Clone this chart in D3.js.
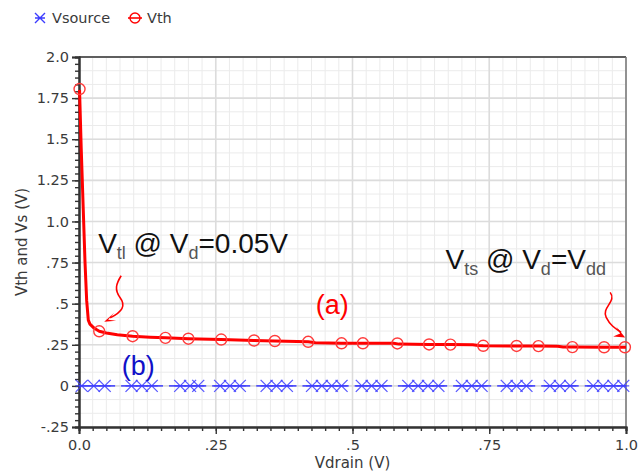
<!DOCTYPE html>
<html>
<head>
<meta charset="utf-8">
<script src="https://cdn.jsdelivr.net/npm/d3@7"></script>
<style>
  html, body { margin: 0; padding: 0; background: #fff; }
  svg { display: block; }
</style>
</head>
<body>
<svg id="chart" width="639" height="473"></svg>
<script>
// Threshold voltage vs drain voltage (simulated sweep)
const vthLineX = [0.001, 0.004, 0.008, 0.011, 0.014, 0.017, 0.020, 0.028, 0.037, 0.05, 0.07, 0.098, 0.13, 0.158, 0.2, 0.26, 0.32, 0.358, 0.419, 0.432, 0.48, 0.519, 0.575, 0.585, 0.64, 0.679, 0.72, 0.73, 0.739, 0.8, 0.84, 0.875, 0.885, 0.902, 0.96, 1.0];
const vthLineY = [1.80, 1.45, 1.05, 0.75, 0.52, 0.40, 0.376, 0.35, 0.332, 0.322, 0.311, 0.302, 0.296, 0.292, 0.287, 0.282, 0.276, 0.273, 0.268, 0.262, 0.259, 0.259, 0.259, 0.254, 0.252, 0.251, 0.250, 0.245, 0.244, 0.243, 0.242, 0.241, 0.237, 0.236, 0.235, 0.235];

// Vth sample markers
const vthMarkX = [0.001, 0.037, 0.098, 0.158, 0.2, 0.26, 0.32, 0.358, 0.419, 0.48, 0.519, 0.582, 0.64, 0.679, 0.739, 0.80, 0.84, 0.902, 0.96, 0.998];
const vthMarkY = [1.805, 0.332, 0.302, 0.292, 0.287, 0.282, 0.276, 0.273, 0.268, 0.259, 0.259, 0.258, 0.252, 0.251, 0.244, 0.243, 0.242, 0.236, 0.235, 0.235];

// Source voltage samples (held at ground)
const vsX = [0.005, 0.027, 0.047, 0.096, 0.115, 0.133, 0.185, 0.203, 0.218, 0.258, 0.276, 0.294, 0.343, 0.361, 0.38, 0.426, 0.444, 0.462, 0.48, 0.517, 0.535, 0.553, 0.602, 0.62, 0.638, 0.657, 0.70, 0.718, 0.736, 0.782, 0.80, 0.818, 0.861, 0.879, 0.898, 0.94, 0.958, 0.977, 0.995];
const vsY = vsX.map(() => 0);

// Axis ticks and labels
const xTickValues = [0, 0.25, 0.5, 0.75, 1.0];
const xTickLabels = ["0.0", ".25", ".5", ".75", "1.0"];
const yTickValues = [2.0, 1.75, 1.5, 1.25, 1.0, 0.75, 0.5, 0.25, 0, -0.25];
const yTickLabels = ["2.0", "1.75", "1.5", "1.25", "1.0", ".75", ".5", ".25", "0", "-.25"];

const seriesNames = ["Vsource", "Vth"];

const svg = d3.select("#chart");
const W = 639, H = 473;
const margin = { left: 79, right: 13, top: 57, bottom: 46 };
const x = d3.scaleLinear().domain([0, 1]).range([margin.left, W - margin.right]);
const y = d3.scaleLinear().domain([-0.25, 2.0]).range([H - margin.bottom, margin.top]);

const RED = "#ff0000", BLUE = "#3c3cff", TXT = "#3a3a3a";
const tickFont = "DejaVu Sans, Verdana, sans-serif";

// grid
const g = svg.append("g");
const xMinor = d3.range(0, 1.0001, 0.025);
const yMinor = d3.range(-0.25, 2.0001, 0.25 / 3);
g.selectAll(".vx").data(xMinor).join("line")
  .attr("x1", d => x(d)).attr("x2", d => x(d)).attr("y1", y(2)).attr("y2", y(-0.25))
  .attr("stroke", "#ebebeb").attr("stroke-width", 1);
g.selectAll(".hy").data(yMinor).join("line")
  .attr("y1", d => y(d)).attr("y2", d => y(d)).attr("x1", x(0)).attr("x2", x(1))
  .attr("stroke", "#ebebeb").attr("stroke-width", 1);
g.selectAll(".vX").data(xTickValues).join("line")
  .attr("x1", d => x(d)).attr("x2", d => x(d)).attr("y1", y(2)).attr("y2", y(-0.25))
  .attr("stroke", "#dcdcdc").attr("stroke-width", 1.6);
g.selectAll(".hY").data(yTickValues).join("line")
  .attr("y1", d => y(d)).attr("y2", d => y(d)).attr("x1", x(0)).attr("x2", x(1))
  .attr("stroke", "#dcdcdc").attr("stroke-width", 1.6);

// frame: top and right
svg.append("line").attr("x1", x(0)).attr("x2", x(1)).attr("y1", y(2)).attr("y2", y(2))
  .attr("stroke", "#333").attr("stroke-width", 1.5);
svg.append("line").attr("x1", x(1)).attr("x2", x(1)).attr("y1", y(2)).attr("y2", y(-0.25))
  .attr("stroke", "#777").attr("stroke-width", 1.5);

// axes
const xAxisMinor = d3.axisBottom(x).tickValues(xMinor).tickSize(4).tickFormat("");
const xAxis = d3.axisBottom(x).tickValues(xTickValues).tickSize(7)
  .tickFormat((d, i) => xTickLabels[i]).tickPadding(6);
const yAxisMinor = d3.axisLeft(y).tickValues(d3.range(-0.25, 2.0001, 0.25 / 6)).tickSize(4).tickFormat("");
const yAxis = d3.axisLeft(y).tickValues(yTickValues).tickSize(7)
  .tickFormat((d, i) => yTickLabels[i]).tickPadding(3);

function styleAxis(sel) {
  sel.selectAll("path").attr("stroke", "#333").attr("stroke-width", 2);
  sel.selectAll("line").attr("stroke", "#333").attr("stroke-width", 1.4);
  sel.selectAll("text").attr("fill", TXT).style("font-family", tickFont).style("font-size", "14.5px");
}
svg.append("g").attr("transform", `translate(0,${y(-0.25)})`).call(xAxisMinor).call(styleAxis);
svg.append("g").attr("transform", `translate(0,${y(-0.25)})`).call(xAxis).call(styleAxis);
svg.append("g").attr("transform", `translate(${x(0)},0)`).call(yAxisMinor).call(styleAxis);
svg.append("g").attr("transform", `translate(${x(0)},0)`).call(yAxis).call(styleAxis);

// axis titles
svg.append("text").attr("x", (x(0) + x(1)) / 2).attr("y", 468)
  .attr("text-anchor", "middle").attr("fill", TXT)
  .style("font-family", tickFont).style("font-size", "15px").text("Vdrain (V)");
svg.append("text").attr("transform", `translate(27,${(y(2) + y(-0.25)) / 2}) rotate(-90)`)
  .attr("text-anchor", "middle").attr("fill", TXT)
  .style("font-family", tickFont).style("font-size", "15px").text("Vth and Vs (V)");

// asterisk marker
function asterisk(cx, cy, r) {
  return `M${cx - r},${cy - r}L${cx + r},${cy + r}M${cx - r},${cy + r}L${cx + r},${cy - r}M${cx - r},${cy}L${cx + r},${cy}`;
}

// Vsource line: drawn in segments broken between sample clusters
const plot = svg.append("g");
const pts = vsX.map((d, i) => [d, vsY[i]]);
const groups = [];
pts.forEach((p, i) => {
  if (i === 0 || p[0] - pts[i - 1][0] > 0.03) groups.push([p]); else groups[groups.length - 1].push(p);
});
groups.forEach((grp, gi) => {
  const first = grp[0][0], last = grp[grp.length - 1][0];
  const start = gi === 0 ? x(0) : (x(groups[gi - 1][groups[gi - 1].length - 1][0]) + x(first)) / 2 + 3;
  const end = gi === groups.length - 1 ? x(1) : (x(last) + x(groups[gi + 1][0][0])) / 2 - 3;
  plot.append("line").attr("x1", start).attr("x2", end)
    .attr("y1", y(grp[0][1])).attr("y2", y(grp[0][1]))
    .attr("stroke", BLUE).attr("stroke-width", 1.8).attr("opacity", 0.85);
});
plot.selectAll(".vs").data(pts).join("path")
  .attr("d", d => asterisk(x(d[0]), y(d[1]), 6))
  .attr("stroke", BLUE).attr("stroke-width", 1.3).attr("fill", "none").attr("opacity", 0.85);

// Vth line
const line = d3.line().x(d => x(d[0])).y(d => y(d[1]));
plot.append("path").datum(vthLineX.map((d, i) => [d, vthLineY[i]]))
  .attr("d", line).attr("fill", "none").attr("stroke", RED).attr("stroke-width", 3)
  .attr("stroke-linejoin", "round");
plot.selectAll(".vm").data(vthMarkX.map((d, i) => [d, vthMarkY[i]])).join("circle")
  .attr("cx", d => x(d[0])).attr("cy", d => y(d[1])).attr("r", 5.5)
  .attr("fill", "none").attr("stroke", "#ff3b3b").attr("stroke-width", 1.4);

// legend
const leg = svg.append("g");
leg.append("path").attr("d", asterisk(40, 18, 5)).attr("stroke", BLUE).attr("stroke-width", 1.4).attr("fill", "none");
leg.append("text").attr("x", 52).attr("y", 23).attr("fill", TXT)
  .style("font-family", tickFont).style("font-size", "14.5px").text(seriesNames[0]);
leg.append("line").attr("x1", 128).attr("x2", 142).attr("y1", 18).attr("y2", 18).attr("stroke", RED).attr("stroke-width", 1.6);
leg.append("circle").attr("cx", 135).attr("cy", 18).attr("r", 5).attr("fill", "none").attr("stroke", RED).attr("stroke-width", 1.4);
leg.append("text").attr("x", 147).attr("y", 23).attr("fill", TXT)
  .style("font-family", tickFont).style("font-size", "14.5px").text(seriesNames[1]);

// annotations
const annFont = "Liberation Sans, Arial, sans-serif";
function subLabel(px, py, parts) {
  const t = svg.append("text").attr("x", px).attr("y", py).attr("fill", "#111")
    .style("font-family", annFont).style("font-size", "28px");
  parts.forEach(p => {
    if (p.sub) {
      t.append("tspan").attr("dy", 6).style("font-size", "18px").attr("fill", "#555").text(p.s);
    } else {
      t.append("tspan").attr("dy", p.after ? -6 : 0).text(p.s);
    }
  });
}
subLabel(x(0.035), y(0.81), [
  { s: "V" }, { s: "tl", sub: true }, { s: " @ V", after: true }, { s: "d", sub: true }, { s: "=0.05V", after: true }
]);
subLabel(x(0.67), y(0.71), [
  { s: "V" }, { s: "ts", sub: true }, { s: " @ V", after: true }, { s: "d", sub: true }, { s: "=V", after: true }, { s: "dd", sub: true }
]);

svg.append("text").attr("x", x(0.433)).attr("y", y(0.44)).attr("fill", RED)
  .style("font-family", annFont).style("font-size", "27px").text("(a)");
svg.append("text").attr("x", x(0.078)).attr("y", y(0.065)).attr("fill", "#1010c8")
  .style("font-family", annFont).style("font-size", "27px").text("(b)");

// squiggly arrows
function squiggle(tx, ty, d, head) {
  const gA = svg.append("g").attr("transform", `translate(${tx},${ty})`);
  gA.append("path").attr("d", d).attr("fill", "none").attr("stroke", RED).attr("stroke-width", 1.6);
  gA.append("path").attr("d", head).attr("fill", RED);
}
squiggle(x(0.046), y(0.39),
  "M17,-46 C12,-38 10,-32 16,-24 C22,-16 18,-10 6,-4",
  "M0,0 L10,-9 L4,-2 L12,-1 Z");
squiggle(x(0.9985), y(0.295),
  "M-15,-45 C-8,-36 -24,-30 -19,-20 C-15,-12 -10,-9 -4,-5",
  "M0,0 L-12,-1 L-5,-4 L-9,-11 Z");
</script>
</body>
</html>
